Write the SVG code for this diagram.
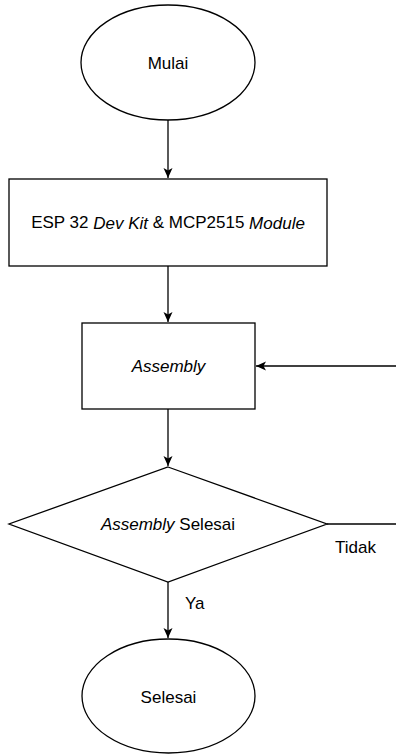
<svg xmlns="http://www.w3.org/2000/svg" width="396" height="755" viewBox="0 0 396 755">
  <style>
    .shape { fill: #ffffff; stroke: #000000; stroke-width: 1.3; }
    .edge { fill: none; stroke: #000000; stroke-width: 1.3; }
    .label { font-family: "Liberation Sans", Arial, sans-serif; font-size: 17px; fill: #000000; }
    .mid { text-anchor: middle; dominant-baseline: central; }
  </style>
  <defs>
    <marker id="arrow" viewBox="0 0 10 10" refX="10" refY="5" markerWidth="10" markerHeight="10" markerUnits="userSpaceOnUse" orient="auto">
      <path d="M0,0.5 L10,5 L0,9.5 L2.5,5 Z" fill="#000000"/>
    </marker>
  </defs>
  <rect width="396" height="755" fill="#ffffff"/>

  <!-- connectors -->
  <g id="connectors">
    <line class="edge" x1="168" y1="120" x2="168" y2="178" marker-end="url(#arrow)"/>
    <line class="edge" x1="168" y1="266" x2="168" y2="322" marker-end="url(#arrow)"/>
    <line class="edge" x1="396" y1="366" x2="256" y2="366" marker-end="url(#arrow)"/>
    <line class="edge" x1="168" y1="409" x2="168" y2="466" marker-end="url(#arrow)"/>
    <line class="edge" x1="327" y1="524" x2="396" y2="524"/>
    <line class="edge" x1="168" y1="582" x2="168" y2="638" marker-end="url(#arrow)"/>
    <text class="label" x="335" y="553">Tidak</text>
    <text class="label" x="185" y="609">Ya</text>
  </g>

  <!-- start terminal -->
  <g id="mulai">
    <ellipse class="shape" cx="168" cy="62.5" rx="87" ry="57.5"/>
    <text class="label mid" x="168" y="63">Mulai</text>
  </g>

  <!-- hardware step -->
  <g id="hardware">
    <rect class="shape" x="9" y="179" width="318" height="87"/>
    <text class="label mid" x="168" y="222.5">ESP 32 <tspan font-style="italic">Dev Kit</tspan> &amp; MCP2515 <tspan font-style="italic">Module</tspan></text>
  </g>

  <!-- assembly step -->
  <g id="assembly">
    <rect class="shape" x="82" y="323" width="173" height="86"/>
    <text class="label mid" x="168.5" y="366" font-style="italic">Assembly</text>
  </g>

  <!-- decision -->
  <g id="decision">
    <polygon class="shape" points="168,467 327,524 168,582 9,524"/>
    <text class="label mid" x="168" y="524"><tspan font-style="italic">Assembly</tspan> Selesai</text>
  </g>

  <!-- end terminal -->
  <g id="selesai">
    <ellipse class="shape" cx="168.5" cy="696" rx="86.5" ry="57"/>
    <text class="label mid" x="168.5" y="697">Selesai</text>
  </g>
</svg>
